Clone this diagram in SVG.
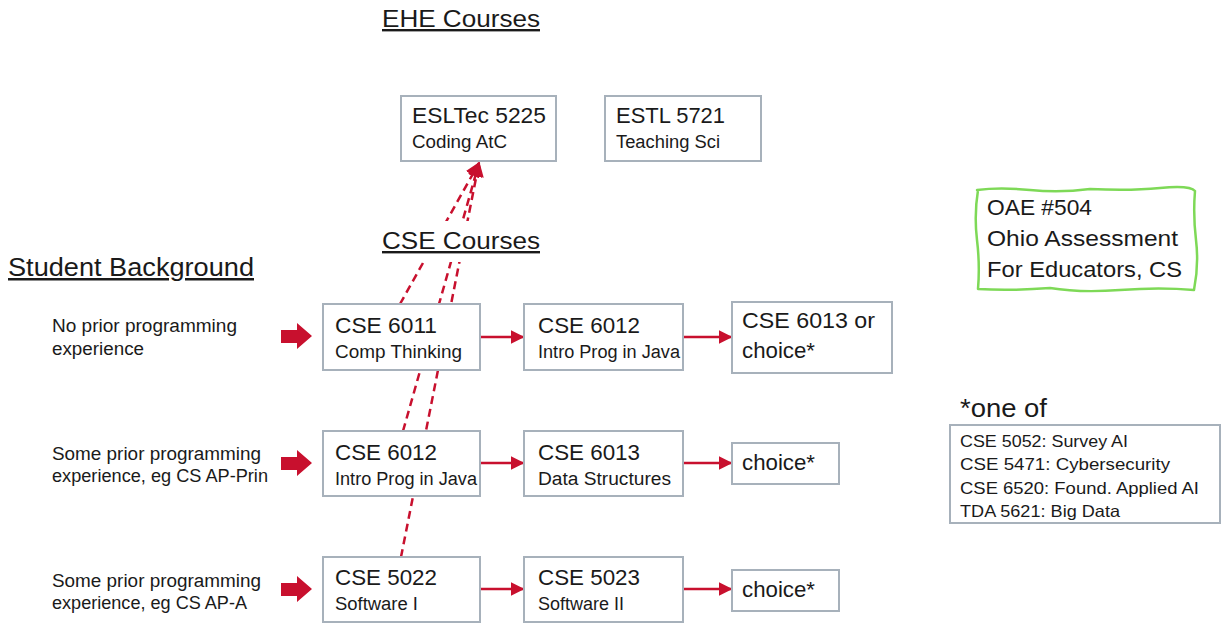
<svg xmlns="http://www.w3.org/2000/svg" width="1225" height="623" viewBox="0 0 1225 623">
<style>
  text { font-family: "Liberation Sans", Arial, sans-serif; fill: #1a1a1a; }
  .box { fill: #ffffff; stroke: #a7b1bb; stroke-width: 2; }
  .h { font-size: 24px; text-decoration: underline; }
  .t1 { font-size: 22.5px; }
  .t2 { font-size: 18px; }
  .bg { font-size: 18px; }
  .li { font-size: 16.5px; }
  .flow { stroke: #c8102e; stroke-width: 2.5; fill: none; }
  .dash { stroke: #c8102e; stroke-width: 2.5; fill: none; stroke-dasharray: 8 5; }
  .block { fill: #c8102e; }
</style>
<defs>
  <marker id="ah" viewBox="0 0 10 10" refX="9" refY="5" markerWidth="5.5" markerHeight="5.5" markerUnits="strokeWidth" orient="auto">
    <path d="M0,0 L10,5 L0,10 z" fill="#c8102e"/>
  </marker>
  <marker id="ahd" viewBox="0 0 10 10" refX="9" refY="5" markerWidth="6" markerHeight="6" markerUnits="strokeWidth" orient="auto">
    <path d="M0,0 L10,5 L0,10 z" fill="#c8102e"/>
  </marker>
</defs>
<rect width="1225" height="623" fill="#ffffff"/>

<g id="connectors">
  <line class="dash" x1="400" y1="304" x2="479" y2="163" marker-end="url(#ahd)"/>
  <line class="dash" x1="403" y1="431" x2="479" y2="163" marker-end="url(#ahd)"/>
  <line class="dash" x1="401" y1="557" x2="479" y2="163" marker-end="url(#ahd)"/>
  <line class="flow" x1="480" y1="337" x2="523" y2="337" marker-end="url(#ah)"/>
  <line class="flow" x1="683" y1="337" x2="731" y2="337" marker-end="url(#ah)"/>
  <line class="flow" x1="480" y1="463" x2="523" y2="463" marker-end="url(#ah)"/>
  <line class="flow" x1="683" y1="463" x2="731" y2="463" marker-end="url(#ah)"/>
  <line class="flow" x1="480" y1="589" x2="523" y2="589" marker-end="url(#ah)"/>
  <line class="flow" x1="683" y1="589" x2="731" y2="589" marker-end="url(#ah)"/>
  <polygon class="block" points="281,330 297,330 297,323 312,336 297,349 297,343 281,343"/>
  <polygon class="block" points="281,457 297,457 297,450 312,463 297,476 297,470 281,470"/>
  <polygon class="block" points="281,583 297,583 297,576 312,589 297,602 297,596 281,596"/>
</g>

<g id="heading-ehe">
  <text class="h" x="382" y="27" textLength="158" lengthAdjust="spacingAndGlyphs">EHE Courses</text>
</g>
<g id="heading-cse">
  <rect x="378" y="221" width="166" height="41" fill="#ffffff"/>
  <text class="h" x="382" y="249" textLength="158" lengthAdjust="spacingAndGlyphs">CSE Courses</text>
</g>
<g id="heading-student">
  <text class="h" x="8" y="276" style="font-size:25px" textLength="246" lengthAdjust="spacingAndGlyphs">Student Background</text>
</g>

<g id="bg-none">
  <text class="bg" x="52" y="332" textLength="185" lengthAdjust="spacingAndGlyphs">No prior programming</text>
  <text class="bg" x="52" y="355" textLength="92" lengthAdjust="spacingAndGlyphs">experience</text>
</g>
<g id="bg-prin">
  <text class="bg" x="52" y="460" textLength="209" lengthAdjust="spacingAndGlyphs">Some prior programming</text>
  <text class="bg" x="52" y="482" textLength="216" lengthAdjust="spacingAndGlyphs">experience, eg CS AP-Prin</text>
</g>
<g id="bg-a">
  <text class="bg" x="52" y="587" textLength="209" lengthAdjust="spacingAndGlyphs">Some prior programming</text>
  <text class="bg" x="52" y="609" textLength="195" lengthAdjust="spacingAndGlyphs">experience, eg CS AP-A</text>
</g>

<g id="esltec5225">
  <rect class="box" x="401" y="96" width="155" height="65"/>
  <text class="t1" x="412" y="123" textLength="134" lengthAdjust="spacingAndGlyphs">ESLTec 5225</text>
  <text class="t2" x="412" y="148" textLength="95" lengthAdjust="spacingAndGlyphs">Coding AtC</text>
</g>
<g id="estl5721">
  <rect class="box" x="605" y="96" width="156" height="65"/>
  <text class="t1" x="616" y="123" textLength="109" lengthAdjust="spacingAndGlyphs">ESTL 5721</text>
  <text class="t2" x="616" y="148" textLength="104" lengthAdjust="spacingAndGlyphs">Teaching Sci</text>
</g>

<g id="r1-cse6011">
  <rect class="box" x="323" y="304" width="157" height="66"/>
  <text class="t1" x="335" y="333" textLength="102" lengthAdjust="spacingAndGlyphs">CSE 6011</text>
  <text class="t2" x="335" y="358" textLength="127" lengthAdjust="spacingAndGlyphs">Comp Thinking</text>
</g>
<g id="r1-cse6012">
  <rect class="box" x="524" y="304" width="159" height="66"/>
  <text class="t1" x="538" y="333" textLength="102" lengthAdjust="spacingAndGlyphs">CSE 6012</text>
  <text class="t2" x="538" y="358" textLength="142" lengthAdjust="spacingAndGlyphs">Intro Prog in Java</text>
</g>
<g id="r1-cse6013">
  <rect class="box" x="732" y="302" width="160" height="71"/>
  <text class="t1" x="742" y="328" textLength="133" lengthAdjust="spacingAndGlyphs">CSE 6013 or</text>
  <text class="t1" x="742" y="358" textLength="73" lengthAdjust="spacingAndGlyphs">choice*</text>
</g>

<g id="r2-cse6012">
  <rect class="box" x="323" y="431" width="157" height="65"/>
  <text class="t1" x="335" y="460" textLength="102" lengthAdjust="spacingAndGlyphs">CSE 6012</text>
  <text class="t2" x="335" y="485" textLength="142" lengthAdjust="spacingAndGlyphs">Intro Prog in Java</text>
</g>
<g id="r2-cse6013">
  <rect class="box" x="524" y="431" width="159" height="65"/>
  <text class="t1" x="538" y="460" textLength="102" lengthAdjust="spacingAndGlyphs">CSE 6013</text>
  <text class="t2" x="538" y="485" textLength="133" lengthAdjust="spacingAndGlyphs">Data Structures</text>
</g>
<g id="r2-choice">
  <rect class="box" x="732" y="443" width="107" height="41"/>
  <text class="t1" x="742" y="470" textLength="73" lengthAdjust="spacingAndGlyphs">choice*</text>
</g>

<g id="r3-cse5022">
  <rect class="box" x="323" y="557" width="157" height="65"/>
  <text class="t1" x="335" y="585" textLength="102" lengthAdjust="spacingAndGlyphs">CSE 5022</text>
  <text class="t2" x="335" y="610" textLength="83" lengthAdjust="spacingAndGlyphs">Software I</text>
</g>
<g id="r3-cse5023">
  <rect class="box" x="524" y="557" width="159" height="65"/>
  <text class="t1" x="538" y="585" textLength="102" lengthAdjust="spacingAndGlyphs">CSE 5023</text>
  <text class="t2" x="538" y="610" textLength="86" lengthAdjust="spacingAndGlyphs">Software II</text>
</g>
<g id="r3-choice">
  <rect class="box" x="732" y="570" width="107" height="41"/>
  <text class="t1" x="742" y="597" textLength="73" lengthAdjust="spacingAndGlyphs">choice*</text>
</g>

<g id="oae504">
  <path d="M977,190 Q1000,187 1030,190 T1090,189 Q1130,191 1160,188 T1195,191 Q1193,215 1196,240 T1194,290 Q1160,287 1120,290 T1050,288 Q1010,291 978,289 Q980,265 977,240 T978,190 Z" fill="#ffffff" stroke="#7ed957" stroke-width="2.5" stroke-linejoin="round"/>
  <text class="t1" x="987" y="215" textLength="105" lengthAdjust="spacingAndGlyphs">OAE #504</text>
  <text class="t1" x="987" y="246" textLength="191" lengthAdjust="spacingAndGlyphs">Ohio Assessment</text>
  <text class="t1" x="987" y="277" textLength="195" lengthAdjust="spacingAndGlyphs">For Educators, CS</text>
</g>

<g id="choice-list">
  <text x="960" y="417" style="font-size:25px" textLength="87" lengthAdjust="spacingAndGlyphs">*one of</text>
  <rect class="box" x="950" y="425" width="270" height="98"/>
  <text class="li" x="960" y="447" textLength="168" lengthAdjust="spacingAndGlyphs">CSE 5052: Survey AI</text>
  <text class="li" x="960" y="470" textLength="210" lengthAdjust="spacingAndGlyphs">CSE 5471: Cybersecurity</text>
  <text class="li" x="960" y="494" textLength="239" lengthAdjust="spacingAndGlyphs">CSE 6520: Found. Applied AI</text>
  <text class="li" x="960" y="517" textLength="160" lengthAdjust="spacingAndGlyphs">TDA 5621: Big Data</text>
</g>
</svg>
